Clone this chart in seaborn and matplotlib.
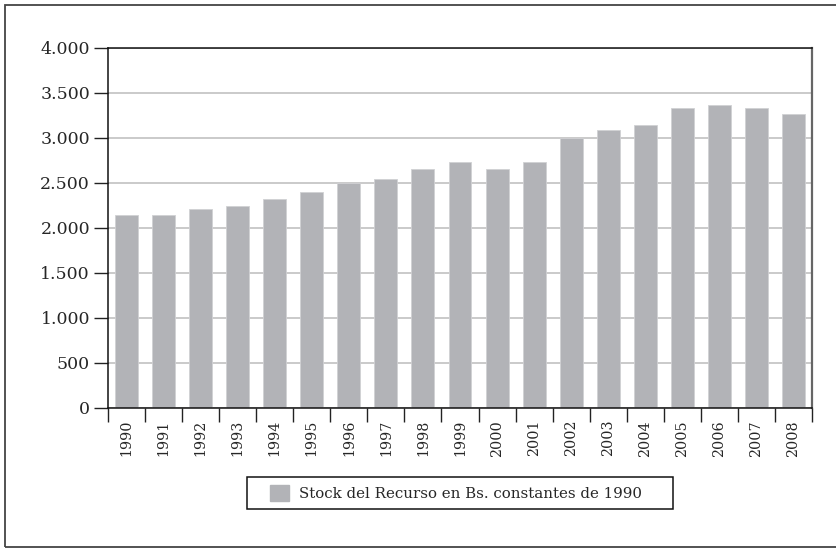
import matplotlib
matplotlib.use("Agg")
import matplotlib.pyplot as plt
import matplotlib.ticker as mticker
from matplotlib.patches import Rectangle, Patch
import seaborn as sns
import pandas as pd

years = [str(y) for y in range(1990, 2009)]
stock = [2140, 2140, 2205, 2245, 2320, 2395, 2500, 2540, 2655, 2730,
         2655, 2730, 2995, 3090, 3140, 3330, 3365, 3330, 3270]
series_label = "Stock del Recurso en Bs. constantes de 1990"

sns.set_style("white")
plt.rcParams["font.family"] = ["DejaVu Serif"]

bar_color = "#b2b3b7"
grid_color = "#c6c6c6"

W, H = 837, 548
fig = plt.figure(figsize=(W / 100, H / 100), dpi=100)
ax = fig.add_axes([108 / W, 1 - 407.5 / H, (812 - 108) / W, (407.5 - 48) / H])

df = pd.DataFrame({"year": years, "stock": stock})
sns.barplot(data=df, x="year", y="stock", color=bar_color, width=0.62,
            saturation=1, edgecolor="#d0d1d4", linewidth=0.6, ax=ax, zorder=2)

ax.set_xlim(-0.5, len(years) - 0.5)
ax.set_ylim(0, 4000)
ax.set_yticks(range(0, 4001, 500))
ax.yaxis.set_major_formatter(
    mticker.FuncFormatter(lambda v, _: f"{v:,.0f}".replace(",", ".")))
ax.yaxis.grid(True, color=grid_color, linewidth=1.3, zorder=0)
ax.set_axisbelow(True)
ax.set_xlabel("")
ax.set_ylabel("")

# category labels at the centres, tick marks on the boundaries
ax.set_xticks(range(len(years)))
ax.set_xticklabels(years, rotation=90, fontsize=10.3)
ax.set_xticks([i - 0.5 for i in range(len(years) + 1)], minor=True)
ax.tick_params(axis="x", which="both", bottom=True)
ax.tick_params(axis="x", which="major", length=0, pad=9)
ax.tick_params(axis="x", which="minor", direction="out", length=10,
               width=1.0, color="#222222")
ax.tick_params(axis="y", which="major", left=True, direction="out",
               length=10, width=1.0, color="#222222", labelsize=12.5, pad=3)

for side in ("left", "bottom", "top"):
    ax.spines[side].set_color("#111111")
    ax.spines[side].set_linewidth(1.1)
ax.spines["right"].set_color("#666666")
ax.spines["right"].set_linewidth(1.6)

# legend entry, with its box drawn separately
handle = Patch(facecolor=bar_color, edgecolor=bar_color)
leg = fig.legend([handle], [series_label], loc="center left",
                 bbox_to_anchor=(270 / W, 1 - 493 / H), frameon=False,
                 fontsize=10.8, handlelength=1.25, handleheight=1.25,
                 borderpad=0, handletextpad=0.7, borderaxespad=0)
fig.patches.append(Rectangle((247.5 / W, 1 - 509 / H), (673 - 247.5) / W,
                             32 / H, transform=fig.transFigure, fill=False,
                             edgecolor="#111111", linewidth=1.1))

# outer border of the figure
fig.patches.append(Rectangle((5 / W, 1.5 / H), 1.0, 542 / H,
                             transform=fig.transFigure, fill=False,
                             edgecolor="#444444", linewidth=1.3))

fig.savefig("out.png", dpi=100)
